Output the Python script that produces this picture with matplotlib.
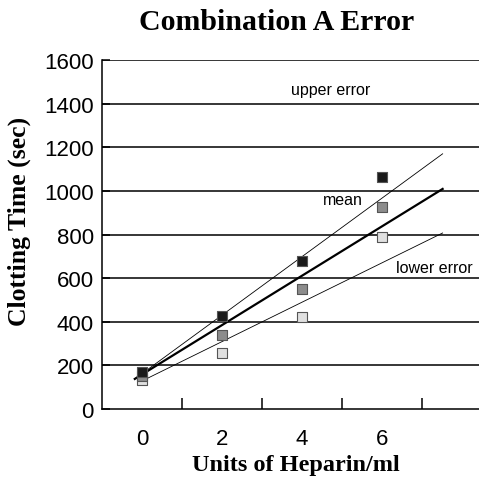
import matplotlib
matplotlib.use("Agg")
import matplotlib.pyplot as plt

# heparin dose (units/ml) and clotting times (sec)
heparin = [0, 2, 4, 6]
upper_pts = [170, 427, 679, 1064]
mean_pts = [150, 339, 550, 927]
lower_pts = [133, 257, 422, 789]

# fitted lines, given by their two ends
fit_x = [-0.18, 7.52]
upper_fit = [138, 1170]
mean_fit = [138, 1009]
lower_fit = [124, 807]

yticks = [0, 200, 400, 600, 800, 1000, 1200, 1400, 1600]
xticks = [0, 2, 4, 6]

fig = plt.figure(figsize=(4.79, 4.85), dpi=100)
ax = fig.add_axes([0.213, 0.1546, 0.787, 0.7196])

for y in yticks[1:]:
    ax.axhline(y, color='black', lw=1.1, zorder=1)

ax.plot(fit_x, upper_fit, color='black', lw=0.6, zorder=2)
ax.plot(fit_x, mean_fit, color='black', lw=1.6, zorder=2)
ax.plot([-0.05, 7.52], lower_fit, color='black', lw=0.6, zorder=2)

ax.scatter(heparin, lower_pts, marker='s', s=60, facecolor='#e0e0e0', edgecolor='#555555', lw=0.8, zorder=3)
ax.scatter(heparin, mean_pts, marker='s', s=60, facecolor='#8c8c8c', edgecolor='#555555', lw=0.8, zorder=3)
ax.scatter(heparin, upper_pts, marker='s', s=60, facecolor='#1a1a1a', edgecolor='#555555', lw=0.8, zorder=3)

ax.text(3.73, 1463, 'upper error', fontsize=11.5, family='Liberation Sans', va='center')
ax.text(4.53, 959, 'mean', fontsize=11.5, family='Liberation Sans', va='center')
ax.text(6.35, 651, 'lower error', fontsize=11.5, family='Liberation Sans', va='center')

ax.set_xlim(-1, 8.43)
ax.set_ylim(0, 1600)
ax.set_yticks(yticks)
ax.set_xticks(xticks)
ax.set_xticks([1, 3, 5, 7], minor=True)
ax.tick_params(axis='x', which='major', length=0, pad=14, labelsize=16)
ax.tick_params(axis='x', which='minor', direction='in', length=8, width=1.1)
ax.tick_params(axis='y', direction='in', length=6, width=1.1, pad=6, labelsize=16)
for lab in ax.get_xticklabels() + ax.get_yticklabels():
    lab.set_family('Liberation Sans')

for s in ['top', 'right']:
    ax.spines[s].set_visible(False)
ax.spines['left'].set_linewidth(1.1)
ax.spines['bottom'].set_linewidth(1.1)

fig.text(0.578, 0.953, 'Combination A Error', ha='center', va='center',
         fontsize=21.5, fontweight='bold', family='Liberation Serif')
fig.text(0.618, 0.041, 'Units of Heparin/ml', ha='center', va='center',
         fontsize=17.5, fontweight='bold', family='Liberation Serif')
fig.text(0.04, 0.543, 'Clotting Time (sec)', ha='center', va='center', rotation=90,
         fontsize=18.5, fontweight='bold', family='Liberation Serif')

fig.savefig('out.png', dpi=100)
